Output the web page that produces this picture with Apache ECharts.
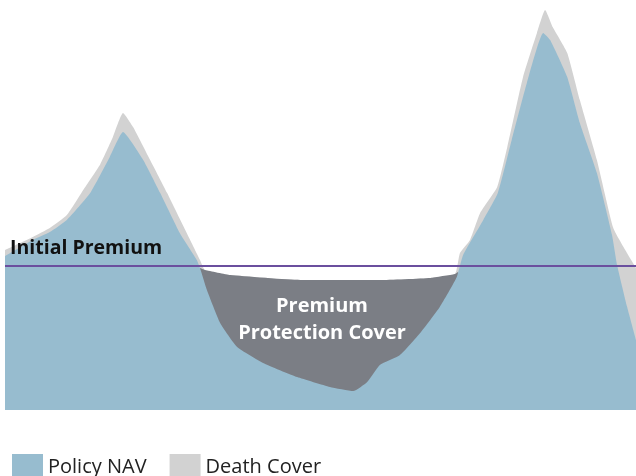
<!DOCTYPE html>
<html>
<head>
<meta charset="utf-8">
<script src="https://cdn.jsdelivr.net/npm/echarts@6/dist/echarts.min.js"></script>
<style>
  html, body { margin: 0; padding: 0; background: #fff; }
  #main { width: 636px; height: 476px; }
</style>
</head>
<body>
<div id="main"></div>
<script>
// x = position along the policy term (0-100), y = value (initial premium = 100)
const navX = [0, 4.4, 7.1, 9.8, 13.5, 16.6, 18.7, 21.9, 24.6, 27.7, 30.4, 30.9, 32.0, 34.1, 36.8, 40.9, 46.3, 51.5, 55.2, 57.4, 59.4, 62.6, 65.8, 68.9, 71.6, 72.6, 75.8, 78.1, 80.3, 82.7, 85.3, 86.4, 89.1, 91.1, 93.8, 96.2, 97.0, 98.6, 100];
const navY = [107, 118.2, 123.7, 132.1, 150.8, 175.9, 193.2, 173.8, 150.8, 123.0, 104.3, 98.7, 83.4, 60.5, 43.8, 32.7, 22.9, 16.0, 13.2, 19.5, 31.3, 38.2, 53.5, 71.6, 92.5, 107.7, 132.1, 150.8, 187.7, 227.3, 262.1, 257.2, 231.5, 199.5, 164.7, 121.6, 100.8, 71.6, 48.7];

const deathX = [0, 4.4, 7.1, 9.8, 12.4, 15.1, 17.1, 18.7, 20.3, 23.0, 25.7, 28.8, 30.9, 31.7, 35.7, 46.8, 59.4, 67.4, 71.3, 72.1, 73.7, 75.3, 78.0, 79.6, 82.1, 84.3, 85.6, 86.8, 89.1, 91.1, 93.8, 96.4, 98.3, 100];
const deathY = [111.2, 120.3, 126.5, 135.5, 152.9, 170.9, 189.8, 206.5, 196.7, 173.8, 150.8, 123.0, 104.3, 97.3, 93.8, 90.4, 90.4, 91.8, 94.5, 109.1, 118.2, 136.9, 155.0, 182.8, 231.5, 262.1, 278.0, 266.2, 248.2, 215.5, 173.8, 126.5, 111.2, 98.7];

const coverX = [30.9, 31.7, 35.7, 46.8, 59.4, 67.4, 71.3, 71.8];
const coverY = [98.7, 97.3, 93.8, 90.4, 90.4, 91.8, 94.5, 95.9];

const initialPremium = 100;

const pairs = (xs, ys) => xs.map((x, i) => [x, ys[i]]);

const chart = echarts.init(document.getElementById('main'));

const area = (name, xs, ys, color, z) => ({
  name: name,
  type: 'line',
  data: pairs(xs, ys),
  symbol: 'none',
  smooth: 0.15,
  lineStyle: { width: 0 },
  itemStyle: { color: color },
  areaStyle: { color: color, opacity: 1 },
  z: z,
  silent: true
});

const navSeries = area('Policy NAV', navX, navY, '#97bccf', 4);
navSeries.markLine = {
  silent: true,
  symbol: 'none',
  label: { show: false },
  lineStyle: { color: '#6b4f9e', width: 2, type: 'solid' },
  data: [{ yAxis: initialPremium }]
};

chart.setOption({
  animation: false,
  grid: { left: 5, right: 0, top: 0, bottom: 66 },
  xAxis: { type: 'value', min: 0, max: 100, show: false },
  yAxis: { type: 'value', min: 0, max: 285, show: false, splitLine: { show: false } },
  legend: {
    data: ['Policy NAV', 'Death Cover'],
    left: 7,
    top: 449,
    icon: 'rect',
    itemWidth: 31,
    itemHeight: 27,
    itemGap: 23,
    textStyle: { fontSize: 20, color: '#222', fontFamily: 'Open Sans' }
  },
  graphic: [
    {
      type: 'text',
      left: 10,
      top: 238,
      style: { text: 'Initial Premium', fontSize: 19.5, fontWeight: 'bold', fill: '#111', fontFamily: 'Open Sans' },
      z: 10
    },
    {
      type: 'text',
      x: 322,
      y: 320,
      style: {
        text: 'Premium\nProtection Cover',
        fontSize: 20,
        lineHeight: 27,
        fontWeight: 'bold',
        fill: '#fff',
        align: 'center',
        verticalAlign: 'middle',
        fontFamily: 'Open Sans'
      },
      z: 10
    }
  ],
  series: [
    area('Death Cover', deathX, deathY, '#d2d2d2', 2),
    area('Premium Protection Cover', coverX, coverY, '#7b7e85', 3),
    navSeries
  ]
});
</script>
</body>
</html>
